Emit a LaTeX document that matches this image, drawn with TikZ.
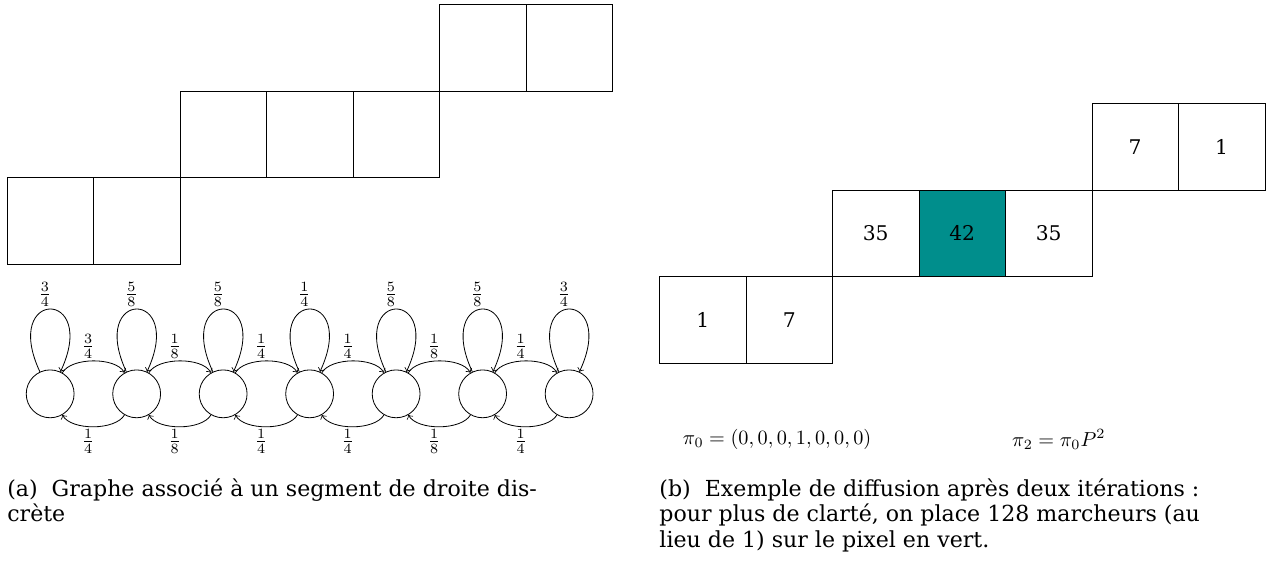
\documentclass[tikz,border=0pt]{standalone}
\usepackage{fontspec}
\setmainfont{DejaVu Serif}
\definecolor{vert}{RGB}{0,142,140}

\begin{document}
\begin{tikzpicture}[
        cell/.style = {
            draw,
            minimum size = 1.5cm,
            inner sep = 0pt,
            anchor = north west,
        },
        state/.style = {
            draw,
            circle,
            minimum size = 0.83cm,
            inner sep = 0pt,
        },
        prob/.style = {
            inner sep = 1pt,
            xshift = -0.09cm,
        },
        legende/.style = {
            anchor = north west,
            align = left,
            inner sep = 0pt,
            font = \fontsize{10.9}{12.6}\selectfont,
        }
    ]
    \useasboundingbox (0,0) rectangle (22.06,-9.83);

    % segment de droite
    \foreach \c/\r in {0/2,1/2,2/1,3/1,4/1,5/0,6/0}
        \node[cell] (a\c) at ({0.12+1.5*\c},{-0.07-1.5*\r}) {};

    % graphe
    \foreach \i in {1,...,7}
        \node[state] (s\i) at ({-0.63+1.5*\i},-6.83) {};

    \foreach \i/\n/\d in {1/3/4,2/5/8,3/5/8,4/1/4,5/5/8,6/5/8,7/3/4}
        \path[->] (s\i)
            edge[out=115,in=65,looseness=11.5] node[prob,above] {$\frac{\n}{\d}$}
            (s\i);

    \foreach \i/\j/\n/\d in {1/2/3/4,2/3/1/8,3/4/1/4,4/5/1/4,5/6/1/8,6/7/1/4}
        \path[->] (s\i)
            edge[bend left=60,looseness=0.75] node[prob,above] {$\frac{\n}{\d}$}
            (s\j);

    \foreach \i/\j/\n/\d in {1/2/1/4,2/3/1/8,3/4/1/4,4/5/1/4,5/6/1/8,6/7/1/4}
        \path[->] (s\j)
            edge[bend left=60,looseness=0.75] node[prob,below] {$\frac{\n}{\d}$}
            (s\i);

    % diffusion
    \foreach \c/\r/\v/\f in {0/2/1/white,1/2/7/white,2/1/35/white,3/1/42/vert,
                             4/1/35/white,5/0/7/white,6/0/1/white}
        \node[cell,fill=\f] (b\c) at ({11.43+1.5*\c},{-1.79-1.5*\r}) {\v};

    \node[anchor=west] (pi0) at (11.72,-7.62) {$\pi_0 = (0,0,0,1,0,0,0)$};
    \node[anchor=west] (pi2) at (17.43,-7.62) {$\pi_2 = \pi_0 P^2$};

    % legendes
    \node[legende] (capa) at (0.12,-8.29)
        {(a)~~Graphe associé à un segment de droite dis-\\crète};
    \node[legende] (capb) at (11.43,-8.29)
        {(b)~~Exemple de diffusion après deux itérations :\\
         pour plus de clarté, on place 128 marcheurs (au\\
         lieu de 1) sur le pixel en vert.};
\end{tikzpicture}
\end{document}
